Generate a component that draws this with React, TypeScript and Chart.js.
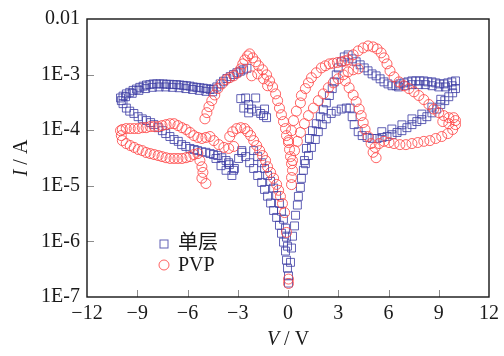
import React, { useEffect, useRef } from 'react';
import { Chart, registerables } from 'chart.js';

Chart.register(...registerables);

// Axis ticks
const xTickValues = [-12, -9, -6, -3, 0, 3, 6, 9, 12];
const xTickLabels = ['−12', '−9', '−6', '−3', '0', '3', '6', '9', '12'];
const yTickValues = [1e-7, 1e-6, 1e-5, 1e-4, 1e-3, 1e-2];
const yTickLabels = ['1E-7', '1E-6', '1E-5', '1E-4', '1E-3', '0.01'];
const seriesNames = ['单层', 'PVP'];

// 单层: voltage (V) and current (A) for each sweep branch
const singleLeftUpperV = [-10.0, -9.85, -9.65, -9.45, -9.25, -9.05, -8.85, -8.65, -8.45, -8.25, -8.05, -7.85, -7.65, -7.45, -7.25, -7.05, -6.85, -6.65, -6.45, -6.25, -6.05, -5.85, -5.65, -5.45, -5.25, -5.05, -4.85, -4.65, -4.45, -4.25, -4.05, -3.85, -3.65, -3.45, -3.25, -3.05, -2.85, -2.65, -2.45];
const singleLeftUpperI = [3.8e-4, 4.1e-4, 4.5e-4, 4.8e-4, 5.2e-4, 5.5e-4, 5.9e-4, 6.2e-4, 6.5e-4, 6.6e-4, 6.8e-4, 6.8e-4, 6.8e-4, 6.8e-4, 6.7e-4, 6.7e-4, 6.6e-4, 6.6e-4, 6.5e-4, 6.4e-4, 6.3e-4, 6.2e-4, 6.0e-4, 5.9e-4, 5.8e-4, 5.7e-4, 5.6e-4, 5.4e-4, 5.5e-4, 6.0e-4, 6.8e-4, 7.6e-4, 8.5e-4, 9.2e-4, 1.0e-3, 1.08e-3, 1.15e-3, 1.22e-3, 1.3e-3];

const singleLeftUpper2V = [-9.7, -9.3, -8.9, -8.5, -8.1, -7.7, -7.3, -6.9, -6.5, -6.1, -5.7, -5.3, -4.9, -4.5];
const singleLeftUpper2I = [4.0e-4, 4.6e-4, 5.2e-4, 5.6e-4, 5.9e-4, 6.0e-4, 6.0e-4, 5.9e-4, 5.8e-4, 5.6e-4, 5.4e-4, 5.2e-4, 5.0e-4, 4.9e-4];

const singleLeftLowerV = [-9.95, -9.85, -9.65, -9.45, -9.2, -8.95, -8.7, -8.45, -8.2, -8.0, -7.75, -7.5, -7.3, -7.05, -6.8, -6.55, -6.35, -6.1, -5.85, -5.6, -5.4, -5.15, -4.9, -4.65, -4.45, -4.2, -3.95, -3.7, -3.5, -3.25];
const singleLeftLowerI = [3.4e-4, 3.0e-4, 2.5e-4, 2.2e-4, 2.0e-4, 1.75e-4, 1.6e-4, 1.49e-4, 1.37e-4, 1.26e-4, 1.11e-4, 9.8e-5, 8.7e-5, 7.7e-5, 6.8e-5, 6.3e-5, 5.5e-5, 5.1e-5, 4.7e-5, 4.5e-5, 4.3e-5, 4.1e-5, 4.0e-5, 3.8e-5, 3.65e-5, 3.5e-5, 3.2e-5, 2.85e-5, 2.4e-5, 1.9e-5];

const singleDipV = [-4.3, -4.0, -3.7, -3.55, -3.35, -3.2, -2.95, -2.75];
const singleDipI = [3.1e-5, 2.3e-5, 1.9e-5, 2.6e-5, 1.53e-5, 2.05e-5, 3.1e-5, 4.0e-5];

const singleIslandV = [-2.82, -2.53, -1.93, -2.64, -2.35, -2.17, -1.87, -1.63, -1.46, -1.28, -2.35, -1.4];
const singleIslandI = [3.7e-4, 3.8e-4, 3.8e-4, 2.5e-4, 2.9e-4, 2.4e-4, 2.2e-4, 2.0e-4, 1.83e-4, 1.68e-4, 2.05e-4, 2.4e-4];

const singleNegArmAV = [-2.76, -2.53, -2.29, -2.05, -1.81, -1.57, -1.4, -1.22, -1.04, -0.86, -0.68, -0.51, -0.39, -0.27, -0.15, -0.09, -0.03, 0.03, 0.03];
const singleNegArmAI = [4.3e-5, 3.35e-5, 2.6e-5, 2.05e-5, 1.53e-5, 1.15e-5, 8.6e-6, 6.5e-6, 4.9e-6, 3.6e-6, 2.7e-6, 1.95e-6, 1.4e-6, 9.7e-7, 6.7e-7, 4.6e-7, 3.3e-7, 2.4e-7, 1.78e-7];

const singleNegArmBV = [-2.05, -1.81, -1.57, -1.4, -1.22, -1.04, -0.86, -0.68, -0.51, -0.39, -0.27, -0.15, -0.09, -0.03];
const singleNegArmBI = [4.3e-5, 3.35e-5, 2.6e-5, 2.05e-5, 1.53e-5, 1.2e-5, 9.1e-6, 6.7e-6, 4.8e-6, 3.5e-6, 2.5e-6, 1.73e-6, 1.19e-6, 8.2e-7];

const singlePosArmAV = [0.15, 0.21, 0.27, 0.39, 0.45, 0.56, 0.62, 0.74, 0.8, 0.92, 1.04, 1.22, 1.4, 1.63, 1.81, 2.05, 2.29, 2.58, 2.88, 3.18, 3.48, 3.71];
const singlePosArmAI = [4.2e-7, 7.6e-7, 1.24e-6, 1.9e-6, 2.95e-6, 4.5e-6, 6.45e-6, 9.35e-6, 1.36e-5, 1.9e-5, 2.5e-5, 3.5e-5, 4.9e-5, 6.8e-5, 9.4e-5, 1.26e-4, 1.6e-4, 2.0e-4, 2.2e-4, 2.4e-4, 2.5e-4, 2.5e-4];

const singlePosArmBV = [0.98, 1.1, 1.28, 1.46, 1.69, 1.93, 2.11, 2.29, 2.47, 2.64, 2.76, 2.88, 3.0, 3.18, 3.36, 3.59];
const singlePosArmBI = [2.85e-5, 4.7e-5, 7.1e-5, 9.8e-5, 1.31e-4, 1.75e-4, 2.34e-4, 3.1e-4, 4.2e-4, 5.6e-4, 7.4e-4, 9.9e-4, 1.32e-3, 1.7e-3, 2.08e-3, 2.26e-3];

const singleRightUpperV = [3.83, 4.07, 4.31, 4.55, 4.78, 5.02, 5.26, 5.5, 5.73, 5.97, 6.21, 6.45, 6.68, 6.92, 7.16, 7.4, 7.63, 7.87, 8.11, 8.35, 8.59, 8.82, 9.06, 9.3, 9.54, 9.78, 10.0];
const singleRightUpperI = [1.92e-3, 1.7e-3, 1.5e-3, 1.32e-3, 1.17e-3, 1.03e-3, 9.5e-4, 8.4e-4, 7.4e-4, 6.8e-4, 6.3e-4, 6.3e-4, 6.8e-4, 7.1e-4, 7.4e-4, 7.7e-4, 7.7e-4, 7.7e-4, 7.7e-4, 7.4e-4, 7.4e-4, 7.1e-4, 6.8e-4, 6.8e-4, 7.1e-4, 7.4e-4, 7.7e-4];

const singleRightUpper2V = [6.6, 7.0, 7.4, 7.8, 8.2, 8.6, 9.0, 9.4, 9.8];
const singleRightUpper2I = [6.0e-4, 6.3e-4, 6.6e-4, 6.6e-4, 6.6e-4, 6.3e-4, 6.0e-4, 6.0e-4, 6.3e-4];

const singleRightLowerV = [10.0, 9.83, 9.6, 9.36, 9.12, 8.88, 8.59, 8.29, 7.99, 7.69, 7.4, 7.1, 6.8, 6.51, 6.21, 5.91, 5.62, 5.32, 5.02, 4.72, 4.43, 4.19, 3.95, 3.83];
const singleRightLowerI = [5.6e-4, 4.7e-4, 4.0e-4, 3.4e-4, 2.9e-4, 2.4e-4, 2.05e-4, 1.75e-4, 1.55e-4, 1.43e-4, 1.26e-4, 1.11e-4, 9.8e-5, 9.1e-5, 8.3e-5, 7.7e-5, 7.4e-5, 7.1e-5, 7.1e-5, 7.4e-5, 8.0e-5, 9.4e-5, 1.26e-4, 1.75e-4];

const singleRightLower2V = [9.12, 8.59, 7.99, 7.4, 6.8, 6.2, 5.6];
const singleRightLower2I = [3.6e-4, 2.6e-4, 1.95e-4, 1.6e-4, 1.25e-4, 1.05e-4, 9.4e-5];

// PVP: voltage (V) and current (A) for each sweep branch
const pvpLeftUpperV = [-10.0, -9.89, -9.66, -9.42, -9.18, -8.94, -8.7, -8.47, -8.23, -7.99, -7.75, -7.52, -7.28, -7.04, -6.8, -6.57, -6.33, -6.09, -5.85, -5.62, -5.38, -5.14, -4.9, -4.66, -4.43, -4.13, -3.83, -3.54, -3.24];
const pvpLeftUpperI = [9.8e-5, 1.03e-4, 1.07e-4, 1.07e-4, 1.07e-4, 1.07e-4, 1.11e-4, 1.11e-4, 1.16e-4, 1.16e-4, 1.16e-4, 1.21e-4, 1.26e-4, 1.31e-4, 1.31e-4, 1.21e-4, 1.11e-4, 1.03e-4, 9.1e-5, 8.0e-5, 7.4e-5, 7.1e-5, 7.4e-5, 7.7e-5, 6.5e-5, 5.5e-5, 4.9e-5, 4.7e-5, 5.1e-5];

const pvpLeftLowerV = [-9.95, -9.89, -9.66, -9.42, -9.18, -8.94, -8.7, -8.47, -8.23, -7.99, -7.75, -7.52, -7.28, -7.04, -6.8, -6.57, -6.33, -6.09, -5.85, -5.62, -5.38];
const pvpLeftLowerI = [8.0e-5, 6.5e-5, 5.75e-5, 5.3e-5, 4.9e-5, 4.5e-5, 4.3e-5, 3.97e-5, 3.8e-5, 3.65e-5, 3.5e-5, 3.35e-5, 3.2e-5, 3.1e-5, 3.1e-5, 3.1e-5, 3.1e-5, 3.2e-5, 3.35e-5, 3.65e-5, 3.8e-5];

const pvpDropV = [-5.26, -5.14, -5.08, -5.14, -4.9];
const pvpDropI = [2.85e-5, 2.2e-5, 1.74e-5, 1.37e-5, 1.1e-5];

const pvpHookV = [-3.48, -3.3, -3.06, -2.82, -2.58, -2.41, -2.23, -2.05, -1.87, -1.69, -1.52, -1.34, -1.22, -1.04, -0.86, -0.68, -0.56, -0.45, -0.33, -0.2, -0.09, 0.03, 0.03];
const pvpHookI = [7.7e-5, 9.4e-5, 1.07e-4, 1.11e-4, 1.07e-4, 9.4e-5, 8.0e-5, 6.5e-5, 5.3e-5, 4.3e-5, 3.5e-5, 2.85e-5, 2.2e-5, 1.74e-5, 1.37e-5, 1.06e-5, 8.3e-6, 6.45e-6, 4.8e-6, 3.3e-6, 1.45e-6, 2.1e-7, 1.75e-7];

const pvpNegArcV = [-4.96, -4.84, -4.72, -4.55, -4.37, -4.19, -3.95, -3.71, -3.48, -3.24, -3.0, -2.82, -2.7, -2.58, -2.41, -2.29, -2.11, -1.93, -1.75, -1.52, -1.28, -1.1, -0.92, -0.74, -0.62, -0.51, -0.39, -0.27, -0.15, -0.09, 0.03, 0.09, 0.15, 0.21, 0.27, 0.21, 0.21];
const pvpNegArcI = [1.6e-4, 2.07e-4, 2.65e-4, 3.4e-4, 4.3e-4, 5.6e-4, 6.8e-4, 8.1e-4, 8.8e-4, 9.5e-4, 1.08e-3, 1.27e-3, 1.56e-3, 1.84e-3, 2.17e-3, 2.36e-3, 2.0e-3, 1.7e-3, 1.44e-3, 1.22e-3, 9.9e-4, 7.7e-4, 6.0e-4, 4.5e-4, 3.4e-4, 2.5e-4, 1.9e-4, 1.43e-4, 1.07e-4, 8.0e-5, 6.0e-5, 4.5e-5, 3.35e-5, 2.5e-5, 1.9e-5, 1.41e-5, 1.05e-5];

const pvpArcInnerV = [-2.17, -1.81, -1.46, -1.22];
const pvpArcInnerI = [9.5e-4, 1.03e-3, 8.4e-4, 6.3e-4];

const pvpPosArmAV = [0.03, 0.21, 0.33, 0.5, 0.74, 0.8, 1.04, 1.22, 1.4, 1.69, 1.99, 2.23, 2.47, 2.7, 2.95, 3.2, 3.4];
const pvpPosArmAI = [6.5e-5, 9.8e-5, 1.49e-4, 2.2e-4, 3.1e-4, 4.2e-4, 5.6e-4, 7.1e-4, 8.8e-4, 1.08e-3, 1.32e-3, 1.44e-3, 1.56e-3, 1.6e-3, 1.65e-3, 1.7e-3, 1.76e-3];

const pvpPosArmBV = [0.27, 0.39, 0.56, 0.74, 0.98, 1.22, 1.52, 1.81, 2.11, 2.41, 2.7, 3.0, 3.3, 3.59, 3.89, 4.19];
const pvpPosArmBI = [2.85e-5, 4.3e-5, 6.3e-5, 9.1e-5, 1.31e-4, 1.83e-4, 2.5e-4, 3.4e-4, 4.5e-4, 5.8e-4, 7.1e-4, 8.4e-4, 9.9e-4, 1.12e-3, 1.22e-3, 1.27e-3];

const pvpRightTopV = [3.59, 3.89, 4.19, 4.49, 4.78, 5.08, 5.32, 5.56, 5.73, 5.91, 6.09, 6.33, 6.63, 6.92, 7.22, 7.52, 7.81, 8.11, 8.41, 8.7, 9.0, 9.3, 9.6, 9.89, 10.0];
const pvpRightTopI = [1.84e-3, 2.27e-3, 2.67e-3, 3.02e-3, 3.28e-3, 3.15e-3, 2.9e-3, 2.46e-3, 2.0e-3, 1.56e-3, 1.17e-3, 9.1e-4, 7.4e-4, 6.3e-4, 5.6e-4, 4.9e-4, 4.2e-4, 3.55e-4, 2.9e-4, 2.4e-4, 2.07e-4, 1.83e-4, 1.68e-4, 1.68e-4, 1.49e-4];

const pvpRightBottomV = [10.0, 9.83, 9.54, 9.18, 8.82, 8.47, 8.11, 7.75, 7.4, 7.04, 6.68, 6.33, 6.03, 5.73, 5.44, 5.2, 5.08, 5.26, 9.24, 9.6];
const pvpRightBottomI = [1.26e-4, 1.03e-4, 8.7e-5, 7.7e-5, 7.1e-5, 6.5e-5, 6.3e-5, 6.0e-5, 5.75e-5, 5.5e-5, 5.5e-5, 5.75e-5, 6.0e-5, 6.3e-5, 5.75e-5, 4.9e-5, 4.0e-5, 3.2e-5, 1.43e-4, 1.31e-4];

const pvpRightDescV = [3.42, 3.65, 3.89, 4.07, 4.25, 4.37, 4.49, 4.6, 4.78, 4.96];
const pvpRightDescI = [7.7e-4, 5.8e-4, 4.3e-4, 3.26e-4, 2.4e-4, 1.83e-4, 1.37e-4, 1.03e-4, 7.7e-5, 5.75e-5];

const pair = (v: number[], i: number[]) => v.map((x, k) => ({ x, y: i[k] }));

const singleData = [
  ...pair(singleLeftUpperV, singleLeftUpperI),
  ...pair(singleLeftUpper2V, singleLeftUpper2I),
  ...pair(singleLeftLowerV, singleLeftLowerI),
  ...pair(singleDipV, singleDipI),
  ...pair(singleIslandV, singleIslandI),
  ...pair(singleNegArmAV, singleNegArmAI),
  ...pair(singleNegArmBV, singleNegArmBI),
  ...pair(singlePosArmAV, singlePosArmAI),
  ...pair(singlePosArmBV, singlePosArmBI),
  ...pair(singleRightUpperV, singleRightUpperI),
  ...pair(singleRightUpper2V, singleRightUpper2I),
  ...pair(singleRightLowerV, singleRightLowerI),
  ...pair(singleRightLower2V, singleRightLower2I),
];

const pvpData = [
  ...pair(pvpLeftUpperV, pvpLeftUpperI),
  ...pair(pvpLeftLowerV, pvpLeftLowerI),
  ...pair(pvpDropV, pvpDropI),
  ...pair(pvpHookV, pvpHookI),
  ...pair(pvpNegArcV, pvpNegArcI),
  ...pair(pvpArcInnerV, pvpArcInnerI),
  ...pair(pvpPosArmAV, pvpPosArmAI),
  ...pair(pvpPosArmBV, pvpPosArmBI),
  ...pair(pvpRightTopV, pvpRightTopI),
  ...pair(pvpRightBottomV, pvpRightBottomI),
  ...pair(pvpRightDescV, pvpRightDescI),
];

const SINGLE_COLOR = 'rgba(62, 62, 165, 0.82)';
const PVP_COLOR = 'rgba(255, 72, 72, 0.85)';
const SERIF = '"Liberation Serif"';
const LABEL_FONT = '20px "Liberation Serif", "Noto Sans CJK SC"';

// Frame, inward tick marks, axis titles and the in-plot legend
const framePlugin = {
  id: 'ivFrame',
  afterDraw(chart: any) {
    const { ctx, chartArea: a, scales } = chart;
    ctx.save();

    ctx.strokeStyle = '#8c8c8c';
    ctx.lineWidth = 1;
    xTickValues.forEach((v) => {
      if (v === xTickValues[0] || v === xTickValues[xTickValues.length - 1]) return;
      const px = Math.round(scales.x.getPixelForValue(v)) + 0.5;
      ctx.beginPath();
      ctx.moveTo(px, a.bottom);
      ctx.lineTo(px, a.bottom - 7);
      ctx.stroke();
    });
    yTickValues.forEach((v) => {
      if (v === yTickValues[0] || v === yTickValues[yTickValues.length - 1]) return;
      const py = Math.round(scales.y.getPixelForValue(v)) + 0.5;
      ctx.beginPath();
      ctx.moveTo(a.left, py);
      ctx.lineTo(a.left + 7, py);
      ctx.stroke();
    });

    ctx.strokeStyle = '#151515';
    ctx.lineWidth = 1.4;
    ctx.strokeRect(a.left, a.top, a.right - a.left, a.bottom - a.top);

    // axis titles: italic quantity, upright unit
    const drawTitle = (sym: string, unit: string) => {
      ctx.font = `italic 20px ${SERIF}`;
      const w1 = ctx.measureText(sym).width;
      ctx.font = `20px ${SERIF}`;
      const w2 = ctx.measureText(unit).width;
      const start = -(w1 + w2) / 2;
      ctx.textBaseline = 'middle';
      ctx.textAlign = 'left';
      ctx.fillStyle = '#1a1a1a';
      ctx.font = `italic 20px ${SERIF}`;
      ctx.fillText(sym, start, 0);
      ctx.font = `20px ${SERIF}`;
      ctx.fillText(unit, start + w1, 0);
    };
    ctx.save();
    ctx.translate((a.left + a.right) / 2, 340);
    drawTitle('V', ' / V');
    ctx.restore();
    ctx.save();
    ctx.translate(22, (a.top + a.bottom) / 2);
    ctx.rotate(-Math.PI / 2);
    drawTitle('I', ' / A');
    ctx.restore();

    // legend
    const lx = 164;
    const rows = [244, 265];
    ctx.lineWidth = 1;
    ctx.strokeStyle = SINGLE_COLOR;
    ctx.strokeRect(lx - 4, rows[0] - 4, 8, 8);
    ctx.strokeStyle = PVP_COLOR;
    ctx.beginPath();
    ctx.arc(lx, rows[1], 5, 0, Math.PI * 2);
    ctx.stroke();
    ctx.fillStyle = '#1a1a1a';
    ctx.font = LABEL_FONT;
    ctx.textAlign = 'left';
    ctx.textBaseline = 'middle';
    ctx.fillText(seriesNames[0], 178, rows[0]);
    ctx.fillText(seriesNames[1], 178, rows[1] + 1);

    ctx.restore();
  },
};

export default function App() {
  const canvasRef = useRef<HTMLCanvasElement | null>(null);

  useEffect(() => {
    const canvas = canvasRef.current;
    if (!canvas) return;
    const chart = new Chart(canvas, {
      type: 'scatter',
      data: {
        datasets: [
          {
            label: seriesNames[0],
            data: singleData,
            pointStyle: 'rect',
            pointRadius: 5.6,
            pointBorderWidth: 1,
            borderColor: SINGLE_COLOR,
            backgroundColor: 'rgba(255,255,255,0)',
            showLine: false,
            order: 1,
          },
          {
            label: seriesNames[1],
            data: pvpData,
            pointStyle: 'circle',
            pointRadius: 5,
            pointBorderWidth: 1,
            borderColor: PVP_COLOR,
            backgroundColor: 'rgba(255,255,255,0)',
            showLine: false,
            order: 0,
          },
        ],
      },
      options: {
        animation: false,
        responsive: false,
        devicePixelRatio: 1,
        layout: { padding: { top: 16, right: 13, left: 0, bottom: 0 } },
        plugins: { legend: { display: false }, tooltip: { enabled: false } },
        scales: {
          x: {
            type: 'linear',
            min: -12,
            max: 12,
            grid: { display: false, drawTicks: false },
            border: { display: false },
            afterBuildTicks: (s: any) => {
              s.ticks = xTickValues.map((value) => ({ value }));
            },
            afterFit: (s: any) => {
              s.height = 59;
            },
            ticks: {
              padding: 5,
              color: '#1a1a1a',
              font: { family: SERIF, size: 20 },
              maxRotation: 0,
              autoSkip: false,
              callback: (_v: any, idx: number) => xTickLabels[idx],
            },
          },
          y: {
            type: 'logarithmic',
            min: 1e-7,
            max: 1e-2,
            grid: { display: false, drawTicks: false },
            border: { display: false },
            afterBuildTicks: (s: any) => {
              s.ticks = yTickValues.map((value) => ({ value }));
            },
            afterFit: (s: any) => {
              s.width = 87;
            },
            ticks: {
              padding: 7,
              color: '#1a1a1a',
              font: { family: SERIF, size: 20 },
              autoSkip: false,
              callback: (_v: any, idx: number) => yTickLabels[idx],
            },
          },
        },
      },
      plugins: [framePlugin],
    });
    return () => chart.destroy();
  }, []);

  return (
    <div style={{ position: 'fixed', left: 0, top: 0, width: 504, height: 356, background: '#fff' }}>
      <canvas ref={canvasRef} width={504} height={356} />
    </div>
  );
}
